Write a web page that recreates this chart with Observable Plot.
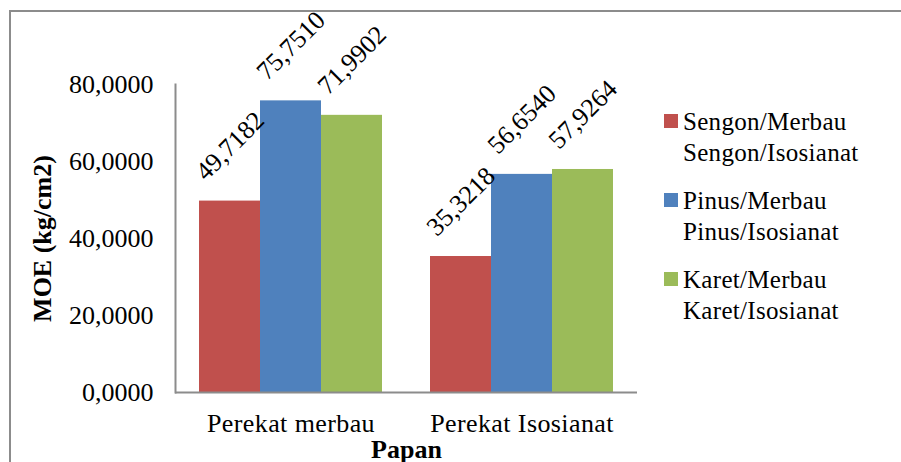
<!DOCTYPE html>
<html><head><meta charset="utf-8">
<script src="https://cdn.jsdelivr.net/npm/d3@7"></script>
<script src="https://cdn.jsdelivr.net/npm/@observablehq/plot@0.6"></script>
<style>
html,body{margin:0;padding:0;background:#fff;overflow:hidden;width:901px;height:462px;}
#wrap{position:relative;width:901px;height:462px;font-family:"Liberation Serif","Times New Roman",serif;overflow:hidden;}
#border{position:absolute;left:9px;top:10px;width:1000px;height:1000px;border-left:2px solid #8c8c8c;border-top:2px solid #8c8c8c;}
#chart{position:absolute;left:0;top:0;}
#legend{position:absolute;left:664px;top:106px;}
.item{display:flex;align-items:flex-start;margin-bottom:17px;}
.sw{width:14px;height:14px;margin-top:8px;margin-right:5px;flex:none;}
.lbl{font-size:25px;line-height:31px;color:#000;white-space:nowrap;letter-spacing:0.3px;}
[aria-label="y-axis label"],[aria-label="fx-axis label"]{font-weight:bold;}
[aria-label="fx-axis tick label"]{letter-spacing:0.4px;}
</style></head>
<body><div id="wrap"><div id="border"></div><div id="chart"></div><div id="legend"></div></div>
<script>
const groups = ["Perekat merbau", "Perekat Isosianat"];
const series = ["Sengon", "Pinus", "Karet"];
const legendLines = [["Sengon/Merbau", "Sengon/Isosianat"], ["Pinus/Merbau", "Pinus/Isosianat"], ["Karet/Merbau", "Karet/Isosianat"]];
const colors = ["#C0504D", "#4F81BD", "#9BBB59"];
const valuesMerbau = [49.7182, 75.7510, 71.9902];
const valuesIsosianat = [35.3218, 56.6540, 57.9264];
const yTicks = [0, 20, 40, 60, 80];
const yLabel = "MOE (kg/cm2)";
const xLabel = "Papan";

const fmt = d3.formatLocale({decimal: ",", thousands: ".", grouping: [3], currency: ["", ""]}).format(".4f");
const groupValues = [valuesMerbau, valuesIsosianat];
const data = groups.flatMap((g, i) => series.map((s, j) => ({group: g, series: s, value: groupValues[i][j]})));
const font = '"Liberation Serif","Times New Roman",serif';

const chart = Plot.plot({
  width: 901, height: 462,
  marginLeft: 175, marginRight: 264, marginTop: 84, marginBottom: 70,
  style: {fontFamily: font, fontSize: "26px", color: "#000", background: "transparent", overflow: "visible"},
  fx: {domain: groups, padding: 0, label: null},
  x: {domain: series, paddingInner: 0, paddingOuter: 0.384, axis: null},
  y: {domain: [0, 80]},
  color: {domain: series, range: colors},
  marks: [
    Plot.barY(data, {fx: "group", x: "series", y: "value", fill: "series", inset: 0}),
    Plot.text(data, {fx: "group", x: "series", y: "value", text: d => fmt(d.value), rotate: -45, dy: -55, fontSize: 26, fill: "#000"}),
    Plot.ruleY([0], {stroke: "#8c8c8c", strokeWidth: 2}),
    Plot.frame({anchor: "left", facetAnchor: "left", stroke: "#8c8c8c", strokeWidth: 2}),
    Plot.axisY({ticks: yTicks, tickFormat: fmt, tickSize: 0, tickPadding: 22, fontSize: 26, label: yLabel, labelAnchor: "center", labelOffset: 143, labelArrow: false}),
    Plot.axisFx({anchor: "bottom", tickSize: 0, tickPadding: 21, fontSize: 26, label: xLabel, labelAnchor: "center", labelOffset: 65, labelArrow: false})
  ]
});
document.getElementById("chart").appendChild(chart);

const legend = document.getElementById("legend");
series.forEach((s, i) => {
  const item = document.createElement("div");
  item.className = "item";
  const sw = document.createElement("div");
  sw.className = "sw";
  sw.style.background = colors[i];
  const lbl = document.createElement("div");
  lbl.className = "lbl";
  lbl.innerHTML = legendLines[i].join("<br>");
  item.appendChild(sw);
  item.appendChild(lbl);
  legend.appendChild(item);
});
</script>
</body></html>
